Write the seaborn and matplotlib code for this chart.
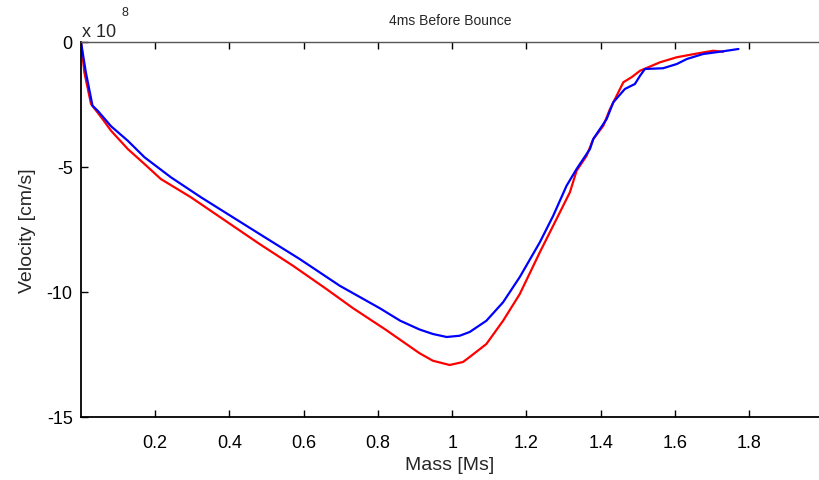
import matplotlib
matplotlib.use("Agg")
import matplotlib.pyplot as plt
import seaborn as sns
import pandas as pd

# Data (velocity in units of 1e8 cm/s)
red_mass = [0.0, 0.009, 0.027, 0.058, 0.081, 0.126, 0.171, 0.215, 0.296, 0.481, 0.571,
            0.661, 0.733, 0.82, 0.912, 0.948, 0.993, 1.029, 1.047, 1.092, 1.137, 1.182,
            1.236, 1.281, 1.317, 1.335, 1.362, 1.380, 1.407, 1.425, 1.461, 1.483, 1.506,
            1.560, 1.605, 1.667, 1.703, 1.730]
red_vel = [0.0, -1.21, -2.48, -3.08, -3.55, -4.28, -4.88, -5.48, -6.21, -8.08, -8.95,
           -9.88, -10.65, -11.5, -12.45, -12.75, -12.92, -12.8, -12.6, -12.08, -11.15, -10.08,
           -8.41, -7.08, -6.01, -5.15, -4.55, -3.88, -3.35, -2.68, -1.61, -1.41, -1.15,
           -0.81, -0.61, -0.44, -0.35, -0.39]

blue_mass = [0.0, 0.013, 0.031, 0.045, 0.081, 0.126, 0.171, 0.242, 0.323, 0.481, 0.589,
             0.697, 0.805, 0.86, 0.912, 0.948, 0.985, 1.02, 1.047, 1.092, 1.137, 1.182,
             1.236, 1.272, 1.308, 1.335, 1.371, 1.380, 1.416, 1.434, 1.465, 1.492, 1.506,
             1.519, 1.568, 1.605, 1.632, 1.676, 1.721, 1.771]
blue_vel = [0.0, -1.21, -2.55, -2.75, -3.37, -3.95, -4.61, -5.41, -6.21, -7.68, -8.68,
            -9.75, -10.65, -11.15, -11.5, -11.68, -11.8, -11.75, -11.6, -11.15, -10.41, -9.4,
            -8.01, -6.95, -5.75, -5.08, -4.28, -3.88, -3.08, -2.41, -1.88, -1.68, -1.35,
            -1.08, -1.05, -0.88, -0.68, -0.48, -0.39, -0.28]

xticks = [0.2, 0.4, 0.6, 0.8, 1.0, 1.2, 1.4, 1.6, 1.8]
xtick_labels = ["0.2", "0.4", "0.6", "0.8", "1", "1.2", "1.4", "1.6", "1.8"]
yticks = [0, -5, -10, -15]
ytick_labels = ["0", "-5", "-10", "-15"]

sns.set_style("white")
plt.rcParams['font.family'] = ['Liberation Sans', 'DejaVu Sans']

fig = plt.figure(figsize=(8.19, 4.81), dpi=100)
ax = fig.add_axes([81 / 819, 1 - 418 / 481, (819 - 81) / 819, (418 - 43) / 481])

df_red = pd.DataFrame({"mass": red_mass, "vel": red_vel})
df_blue = pd.DataFrame({"mass": blue_mass, "vel": blue_vel})
sns.lineplot(data=df_red, x="mass", y="vel", sort=False, color="#ff0000", lw=1.6, ax=ax)
sns.lineplot(data=df_blue, x="mass", y="vel", sort=False, color="#0000ff", lw=1.6, ax=ax)

ax.set_xlim(0, 1.988)
ax.set_ylim(-15, 0)
ax.set_xticks(xticks)
ax.set_xticklabels(xtick_labels)
ax.set_yticks(yticks)
ax.set_yticklabels(ytick_labels)
ax.tick_params(axis='both', direction='in', length=5, width=1, labelsize=13,
               colors='black', top=True, left=True, bottom=True, right=False, pad=6)
ax.tick_params(axis='x', pad=12)
for side in ['left', 'bottom']:
    ax.spines[side].set_color('black')
    ax.spines[side].set_linewidth(1.3)
ax.spines['top'].set_color('#555555')
ax.spines['top'].set_linewidth(1.0)
ax.spines['right'].set_visible(False)

ax.set_xlabel("Mass [Ms]", fontsize=14, labelpad=4)
ax.set_ylabel("Velocity [cm/s]", fontsize=14, labelpad=8)
ax.set_title("4ms Before Bounce", fontsize=10, pad=13)

fig.text(82 / 819, 1 - 33 / 481, "x 10", fontsize=13, va='center', ha='left')
fig.text(122 / 819, 1 - 13 / 481, "8", fontsize=9, va='center', ha='left')

fig.savefig("out.png", dpi=100)
